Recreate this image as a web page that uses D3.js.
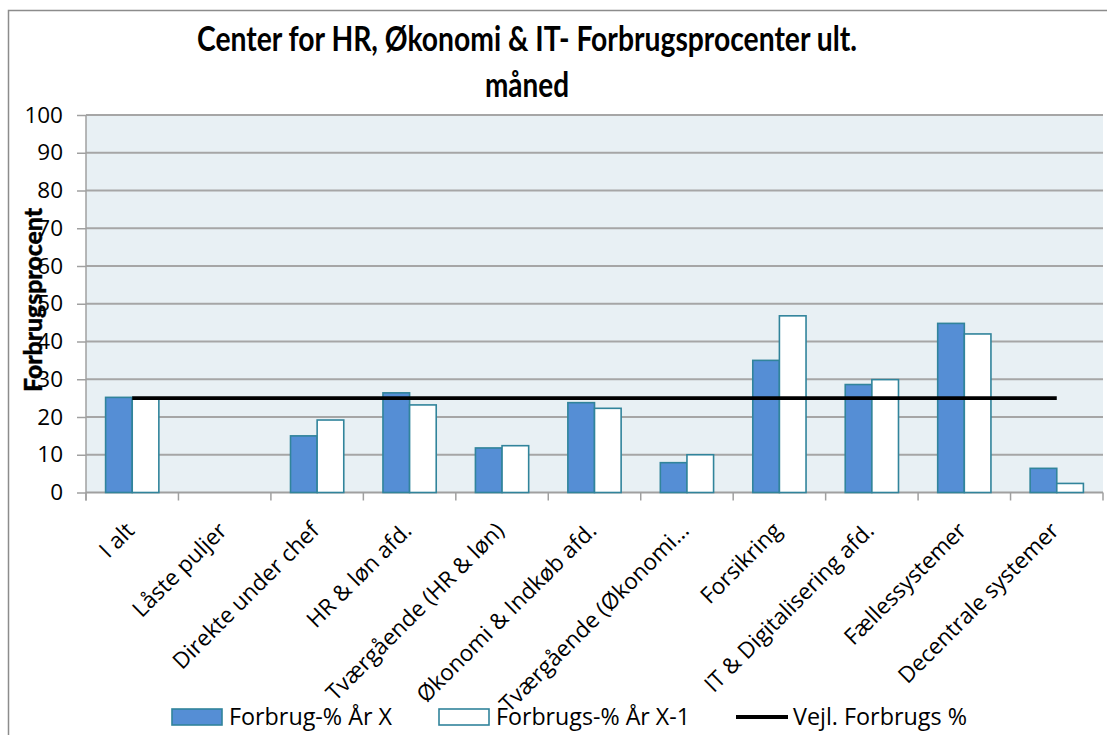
<!DOCTYPE html>
<html>
<head>
<meta charset="utf-8">
<script src="https://cdn.jsdelivr.net/npm/d3@7"></script>
<style>
  html, body { margin: 0; padding: 0; background: #fff; }
  svg { display: block; }
  text { font-family: "Open Sans", "Noto Sans", sans-serif; fill: #000; }
</style>
</head>
<body>
<svg id="chart" width="1107" height="735"></svg>
<script>
const categories = ["I alt", "Låste puljer", "Direkte under chef", "HR & løn afd.", "Tværgående (HR & løn)",
  "Økonomi & Indkøb afd.", "Tværgående (Økonomi…", "Forsikring", "IT & Digitalisering afd.",
  "Fællessystemer", "Decentrale systemer"];
const seriesNames = ["Forbrug-% År X", "Forbrugs-% År X-1", "Vejl. Forbrugs %"];
const forbrugAarX = [25.2, 0, 15.0, 26.4, 11.8, 23.8, 7.9, 35.0, 28.6, 44.8, 6.4];
const forbrugAarX1 = [25.1, 0, 19.2, 23.2, 12.4, 22.3, 10.0, 46.8, 29.9, 42.0, 2.4];
const vejlForbrug = [25, 25, 25, 25, 25, 25, 25, 25, 25, 25, 25];
const yTicks = [0, 10, 20, 30, 40, 50, 60, 70, 80, 90, 100];
const titleLines = ["Center for HR, Økonomi & IT- Forbrugsprocenter ult.", "måned"];
const yAxisTitle = "Forbrugsprocent";

const svg = d3.select("#chart");
const plot = { left: 86, right: 1103, top: 115, bottom: 492.5 };

// outer chart border
svg.append("rect").attr("x", 8.5).attr("y", 10.5).attr("width", 1200).attr("height", 800)
  .attr("fill", "#fff").attr("stroke", "#8c8c8c").attr("stroke-width", 1.5);

const x = d3.scaleBand().domain(categories).range([plot.left, plot.right])
  .paddingInner(0.424).paddingOuter(0.212);
const xs = d3.scaleBand().domain([0, 1]).range([0, x.bandwidth()]);
const y = d3.scaleLinear().domain([0, 100]).range([plot.bottom, plot.top]);
const step = x.step();

// plot background
svg.append("rect").attr("x", plot.left).attr("y", plot.top)
  .attr("width", plot.right - plot.left).attr("height", plot.bottom - plot.top)
  .attr("fill", "#e8f0f4");

// gridlines + y axis
const yAxis = d3.axisLeft(y).tickValues(yTicks).tickSize(9).tickPadding(14).tickFormat(d3.format("d"));
const gY = svg.append("g").attr("transform", `translate(${plot.left},0)`).call(yAxis);
gY.select(".domain").remove();
gY.selectAll(".tick line").attr("stroke", "#a0a0a0").attr("stroke-width", 1.5);
gY.selectAll(".tick text").style("font-size", "22.5px").attr("fill", "#000");
svg.append("g").selectAll("line").data(yTicks.filter(d => d > 0)).join("line")
  .attr("x1", plot.left).attr("x2", plot.right)
  .attr("y1", d => y(d)).attr("y2", d => y(d))
  .attr("stroke", "#a6a6a6").attr("stroke-width", 1.8);

// left axis line
svg.append("line").attr("x1", plot.left).attr("x2", plot.left)
  .attr("y1", plot.top).attr("y2", plot.bottom + 8)
  .attr("stroke", "#a0a0a0").attr("stroke-width", 1.5);
// bottom axis line
svg.append("line").attr("x1", plot.left).attr("x2", plot.right)
  .attr("y1", plot.bottom).attr("y2", plot.bottom)
  .attr("stroke", "#a0a0a0").attr("stroke-width", 1.8);
// category boundary ticks
const boundaries = d3.range(categories.length + 1).map(i => plot.left + i * step);
svg.append("g").selectAll("line").data(boundaries).join("line")
  .attr("x1", d => d).attr("x2", d => d)
  .attr("y1", plot.bottom).attr("y2", plot.bottom + 8)
  .attr("stroke", "#a0a0a0").attr("stroke-width", 1.5);

// bars
const barData = [];
categories.forEach((c, i) => {
  barData.push({ c, s: 0, v: forbrugAarX[i] });
  barData.push({ c, s: 1, v: forbrugAarX1[i] });
});
svg.append("g").selectAll("rect").data(barData.filter(d => d.v > 0)).join("rect")
  .attr("x", d => x(d.c) + xs(d.s))
  .attr("y", d => y(d.v))
  .attr("width", xs.bandwidth())
  .attr("height", d => y(0) - y(d.v))
  .attr("fill", d => d.s === 0 ? "#558ed5" : "#ffffff")
  .attr("stroke", "#31849b").attr("stroke-width", 1.6);

// guideline
const line = d3.line().x((d, i) => x(categories[i]) + x.bandwidth() / 2).y(d => y(d));
svg.append("path").datum(vejlForbrug).attr("d", line)
  .attr("fill", "none").attr("stroke", "#000").attr("stroke-width", 3.8);

// x labels
svg.append("g").selectAll("text").data(categories).join("text")
  .attr("transform", d => `translate(${x(d) + x.bandwidth() / 2 - 8},${plot.bottom + 28}) rotate(-45)`)
  .attr("text-anchor", "end").attr("dy", "0.72em")
  .style("font-size", "22.5px")
  .text(d => d);

// title
const title = svg.append("g");
title.append("text").attr("x", 527).attr("y", 51).attr("text-anchor", "middle")
  .style("font-family", "Lato, 'Open Sans', sans-serif").style("font-weight", "bold").style("font-size", "35px")
  .attr("textLength", 660).attr("lengthAdjust", "spacingAndGlyphs")
  .text(titleLines[0]);
title.append("text").attr("x", 527).attr("y", 97).attr("text-anchor", "middle")
  .style("font-family", "Lato, 'Open Sans', sans-serif").style("font-weight", "bold").style("font-size", "35px")
  .attr("textLength", 84).attr("lengthAdjust", "spacingAndGlyphs")
  .text(titleLines[1]);

// y axis title
svg.append("text").attr("transform", "translate(42,300) rotate(-90)")
  .attr("text-anchor", "middle")
  .style("font-family", "Lato, 'Open Sans', sans-serif").style("font-weight", "900").style("font-size", "24px")
  .attr("stroke", "#000").attr("stroke-width", 0.4)
  .attr("textLength", 184).attr("lengthAdjust", "spacingAndGlyphs")
  .text(yAxisTitle);

// legend
const legY = 717;
const lg = svg.append("g");
const legItems = [
  { x: 172, type: "rect", fill: "#558ed5", textW: 163 },
  { x: 439, type: "rect", fill: "#ffffff", textW: 194 },
  { x: 736, type: "line", textW: 174 }
];
legItems.forEach((it, i) => {
  if (it.type === "rect") {
    lg.append("rect").attr("x", it.x).attr("y", legY - 8).attr("width", 50).attr("height", 16)
      .attr("fill", it.fill).attr("stroke", "#31849b").attr("stroke-width", 1.6);
  } else {
    lg.append("line").attr("x1", it.x).attr("x2", it.x + 52).attr("y1", legY).attr("y2", legY)
      .attr("stroke", "#000").attr("stroke-width", 3.8);
  }
  lg.append("text").attr("x", it.x + 57).attr("y", legY).attr("dy", "0.36em")
    .style("font-size", "23px")
    .attr("textLength", it.textW).attr("lengthAdjust", "spacingAndGlyphs")
    .text(seriesNames[i]);
});
</script>
</body>
</html>
